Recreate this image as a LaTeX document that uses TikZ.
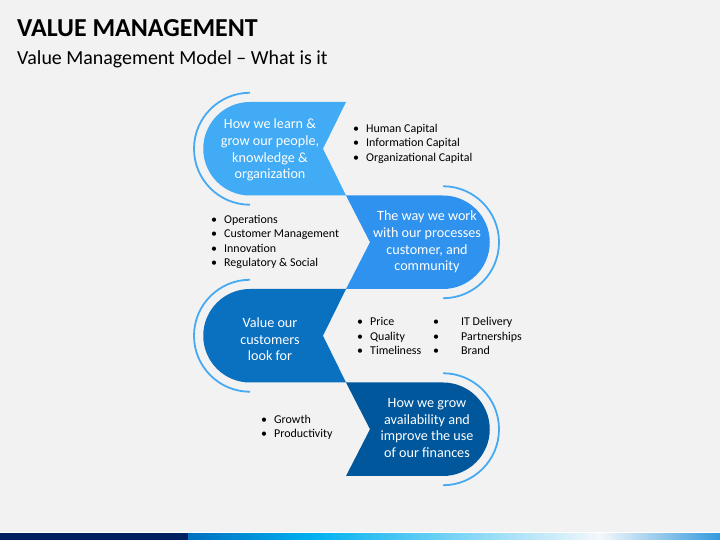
\documentclass[tikz,border=0pt]{standalone}
\usepackage{fontspec}
\setmainfont{Carlito}
\usetikzlibrary{positioning}
\definecolor{pagegray}{HTML}{F2F2F2}
\definecolor{shadeA}{HTML}{41ABF5}
\definecolor{shadeB}{HTML}{2E92EE}
\definecolor{shadeC}{HTML}{0A70C0}
\definecolor{shadeD}{HTML}{00579C}
\definecolor{ringblue}{HTML}{45AAF2}
\definecolor{barnavy}{HTML}{002060}
\definecolor{barblue}{HTML}{0070C0}
\definecolor{barcyan}{HTML}{00B0F0}
\definecolor{barpale}{HTML}{F4F8FB}
\definecolor{barend}{HTML}{3399DD}
\newcommand\lbul[1][13bp]{\makebox[#1][l]{\textbullet}}

\begin{document}
\begin{tikzpicture}[x=1bp,y=1bp,
  band/.style={draw=none},
  lbl/.style={text=white,font=\fontsize{14.2}{16.7}\selectfont,align=center,inner sep=0},
  lst/.style={font=\fontsize{12}{14.5}\selectfont,align=left,anchor=west,inner sep=0},
  ring/.style={draw=ringblue,line width=1.8bp}]
\fill[pagegray] (0,0) rectangle (720,540);
\useasboundingbox (0,0) rectangle (720,540);
\node[anchor=base west,inner sep=0,font=\bfseries\fontsize{26}{30}\selectfont] (title) at (17,503) {VALUE MANAGEMENT};
\node[anchor=base west,inner sep=0,font=\fontsize{20}{24}\selectfont] (subtitle) at (17,475) {Value Management Model -- What is it};
\fill[band,shadeA] (250,438) -- (346,438) -- (323,391.25) -- (346,344.5) -- (250,344.5) arc (270:90:46.75) -- cycle;
\fill[band,shadeB] (346,344.5) -- (443,344.5) arc (90:-90:46.75) -- (346,251) -- (370,297.75) -- cycle;
\fill[band,shadeC] (250,251) -- (346,251) -- (323,204.25) -- (346,157.5) -- (250,157.5) arc (270:90:46.75) -- cycle;
\fill[band,shadeD] (346,157.5) -- (443,157.5) arc (90:-90:46.75) -- (346,64) -- (370,110.75) -- cycle;
\draw[ring] (250,447.25) arc (90:270:56);
\draw[ring] (443,353.75) arc (90:-90:56);
\draw[ring] (250,260.25) arc (90:270:56);
\draw[ring] (443,166.75) arc (90:-90:56);
\node[lbl] (learn) at (270,390) {How we learn \&\\grow our people,\\knowledge \&\\organization};
\node[lbl] (work) at (427,298) {The way we work\\with our processes\\customer, and\\community};
\node[lbl] (value) at (270,200.5) {Value our\\customers\\look for};
\node[lbl] (grow) at (427,112) {How we grow\\availability and\\improve the use\\of our finances};
\node[lst] (capital) at (353,396.5) {\lbul Human Capital\\\lbul Information Capital\\\lbul Organizational Capital};
\node[lst] (ops) at (211,298) {\lbul Operations\\\lbul Customer Management\\\lbul Innovation\\\lbul Regulatory \& Social};
\node[lst] (price) at (357,204) {\lbul Price\\\lbul Quality\\\lbul Timeliness};
\node[lst] (delivery) at (433,204) {\lbul[28bp]IT Delivery\\\lbul[28bp]Partnerships\\\lbul[28bp]Brand};
\node[lst] (growth) at (261,112.5) {\lbul Growth\\\lbul Productivity};
\fill[barnavy] (0,0) rectangle (188,7);
\shade[left color=barblue,right color=barcyan] (188,0) rectangle (312,7);
\shade[left color=barcyan,right color=barpale] (312,0) rectangle (600,7);
\shade[left color=barpale,right color=barend] (600,0) rectangle (720,7);
\draw[white,line width=0.8bp] (0,7.4) -- (720,7.4);
\end{tikzpicture}
\end{document}
